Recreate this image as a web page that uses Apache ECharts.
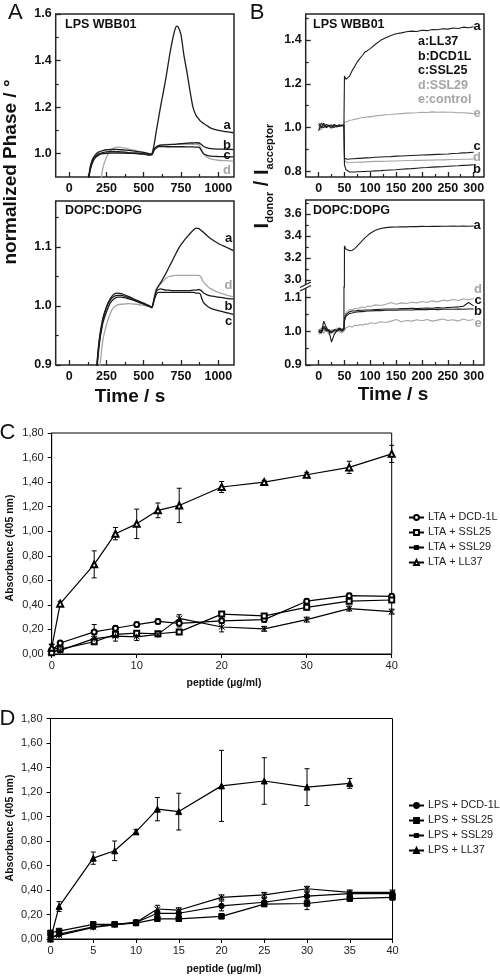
<!DOCTYPE html>
<html><head><meta charset="utf-8">
<script src="https://cdn.jsdelivr.net/npm/echarts@6.0.0/dist/echarts.min.js"></script>
<style>html,body{margin:0;padding:0;background:#fff;}#chart{width:500px;height:977px;}</style>
</head><body><div id="chart"></div>
<script>
// ---------------- Panel A (normalized phase) ----------------
const timeA = [125,140,150,160,175,200,225,250,275,300,325,350,400,450,500,540,555,570,585,600,615,630,650,670,690,710,720,730,750,770,790,810,830,850,870,880,890,900,925,950,1000,1050,1100];
const aTopA = [0.88,0.93,0.955,0.972,0.988, 1.0,1.005,1.008,1.01,1.01, 1.009,1.008,1.005,1.003,1.0, 0.995,1.0,1.04,1.10,1.155, 1.21,1.26,1.33,1.41,1.48, 1.535,1.548,1.545,1.51,1.42, 1.35,1.27,1.2,1.165,1.148, 1.14,1.135,1.13,1.12,1.11, 1.10,1.095,1.09];
const aTopB = [0.87,0.94,0.965,0.98,0.995, 1.008,1.013,1.017,1.018,1.019, 1.018,1.017,1.014,1.01,1.006, 1.0,0.998,1.02,1.03,1.035, 1.037,1.038,1.038,1.039,1.04, 1.04,1.041,1.042,1.043,1.044, 1.045,1.046,1.046,1.047,1.046, 1.043,1.038,1.032,1.025,1.022, 1.02,1.019,1.018];
const aTopC = [0.87,0.925,0.95,0.967,0.982, 0.995,1.0,1.002,1.003,1.003, 1.003,1.003,1.002,1.0,0.998, 0.994,0.995,1.015,1.025,1.03, 1.031,1.031,1.03,1.03,1.03, 1.03,1.03,1.03,1.03,1.03, 1.029,1.029,1.029,1.028,1.028, 1.02,1.01,1.0,0.993,0.99, 0.988,0.987,0.986];
const aTopD = [null,null,null,null,null, 0.82,0.935,0.985,1.012,1.024, 1.028,1.027,1.02,1.013,1.005, 0.998,0.997,1.02,1.03,1.036, 1.038,1.039,1.04,1.04,1.04, 1.04,1.04,1.04,1.04,1.04, 1.04,1.04,1.04,1.04,1.039, 1.03,1.015,1.0,0.985,0.978, 0.972,0.97,0.968];
const aBotA = [0.6,0.68,0.73,0.78,0.86, 0.935,0.975,0.998,1.012,1.02, 1.022,1.021,1.016,1.01,1.005, 1.0,0.998,1.012,1.027,1.034, 1.04,1.047,1.056,1.066,1.076, 1.086,1.091,1.096,1.104,1.111, 1.117,1.123,1.128,1.132,1.131, 1.129,1.127,1.125,1.119,1.114, 1.106,1.1,1.094];
const aBotB = [0.6,0.68,0.73,0.78,0.86, 0.94,0.978,0.998,1.01,1.016, 1.018,1.018,1.014,1.009,1.004, 1.0,0.998,1.012,1.025,1.028, 1.029,1.028,1.027,1.027,1.026, 1.026,1.026,1.026,1.026,1.026, 1.026,1.026,1.027,1.027,1.028, 1.027,1.025,1.022,1.019,1.017, 1.015,1.013,1.012];
const aBotC = [0.6,0.67,0.72,0.77,0.85, 0.93,0.97,0.99,1.005,1.012, 1.015,1.015,1.012,1.008,1.003, 0.999,0.997,1.01,1.02,1.023, 1.023,1.023,1.023,1.023,1.023, 1.023,1.023,1.023,1.023,1.023, 1.023,1.023,1.023,1.022,1.022, 1.02,1.012,1.006,1.0,0.996, 0.992,0.989,0.986];
const aBotD = [null,null,null,null,null, 0.88,0.94,0.968,0.987,0.998, 1.002,1.003,1.004,1.003,1.001, 0.999,0.998,1.015,1.03,1.035, 1.038,1.042,1.047,1.05,1.051, 1.052,1.052,1.052,1.052,1.052, 1.052,1.052,1.052,1.052,1.052, 1.05,1.046,1.041,1.034,1.029, 1.023,1.019,1.016];

// ---------------- Panel B (FRET ratio) ----------------
const timeB = [0,5,10,15,20,25,30,35,40,45,49,50,53,56,60,65,70,75,80,85,90,95,100,110,120,130,140,150,160,170,180,190,200,210,220,230,240,250,260,270,280,290,300];
const bTopA = [0.985,1.02,1.01,1.0,1.012,1.0,1.01,1.005,1.012,1.008, 1.01,1.235,1.22,1.225,1.235, 1.26,1.28,1.30,1.316,1.33, 1.345,1.352,1.36,1.38,1.398, 1.41,1.42,1.428,1.432,1.437, 1.44,1.438,1.444,1.442,1.447, 1.446,1.451,1.449,1.454,1.452, 1.458,1.455,1.46];
const bTopB = [1.02,1.005,1.0,1.015,1.008,1.012,1.0,1.01,1.005,1.012, 1.01,0.83,0.808,0.8,0.798, 0.798,0.798,0.799,0.799,0.8, 0.8,0.801,0.801,0.803,0.804, 0.806,0.807,0.808,0.81,0.812, 0.813,0.815,0.817,0.818,0.82, 0.821,0.822,0.824,0.825,0.826, 0.828,0.829,0.831];
const bTopC = [1.01,1.0,1.02,1.005,1.01,1.0,1.015,1.008,1.012,1.01, 1.012,0.86,0.855,0.856,0.857, 0.858,0.858,0.86,0.86,0.861, 0.862,0.862,0.863,0.865,0.866, 0.867,0.868,0.87,0.871,0.872, 0.873,0.874,0.875,0.876,0.877, 0.878,0.879,0.88,0.882,0.883, 0.885,0.886,0.888];
const bTopD = [0.99,1.0,1.01,1.0,1.005,0.995,1.01,1.0,1.008,1.01, 1.008,0.85,0.842,0.84,0.84, 0.841,0.842,0.842,0.843,0.843, 0.844,0.844,0.845,0.846,0.846, 0.847,0.848,0.848,0.849,0.85, 0.85,0.851,0.851,0.852,0.852, 0.853,0.853,0.854,0.855,0.855, 0.856,0.856,0.857];
const bTopE = [1.0,0.99,1.012,1.0,1.006,0.998,1.01,1.004,1.01,1.008, 1.01,1.025,1.03,1.028,1.034, 1.035,1.039,1.04,1.044,1.046, 1.047,1.05,1.049,1.054,1.056, 1.059,1.06,1.062,1.064,1.066, 1.067,1.068,1.07,1.069,1.072, 1.07,1.071,1.07,1.07,1.068, 1.068,1.066,1.064];
const bBotA = [1.0,0.995,1.03,1.01,1.0,0.968,0.99,1.0,1.005,1.0, 1.005,3.31,3.28,3.27,3.265, 3.27,3.285,3.31,3.335,3.36, 3.385,3.405,3.425,3.452,3.468, 3.476,3.48,3.482,3.484,3.483, 3.486,3.485,3.487,3.486,3.488, 3.487,3.489,3.488,3.49,3.489, 3.49,3.489,3.49];
const bBotB = [1.0,0.995,1.01,1.0,1.005,0.998,1.002,1.0,1.006,1.003, 1.005,1.03,1.045,1.05,1.053, 1.054,1.056,1.057,1.058,1.058, 1.059,1.06,1.06,1.061,1.061, 1.062,1.062,1.062,1.063,1.063, 1.063,1.064,1.064,1.064,1.065, 1.064,1.065,1.065,1.065,1.066, 1.065,1.066,1.066];
const bBotC = [1.005,1.0,1.015,1.005,1.0,0.995,1.005,1.002,1.01,1.005, 1.008,1.035,1.05,1.055,1.058, 1.06,1.06,1.061,1.062,1.062, 1.063,1.063,1.063,1.064,1.065, 1.066,1.066,1.066,1.067,1.067, 1.068,1.067,1.068,1.069,1.068, 1.07,1.069,1.07,1.071,1.072, 1.074,1.085,1.075];
const bBotD = [0.995,1.01,1.0,1.015,0.995,1.005,1.0,1.01,0.998,1.005, 1.01,1.04,1.055,1.06,1.065, 1.063,1.068,1.066,1.07,1.072, 1.07,1.075,1.073,1.078,1.076, 1.08,1.085,1.08,1.084,1.082, 1.086,1.084,1.088,1.085,1.09, 1.087,1.092,1.09,1.094,1.091, 1.096,1.093,1.097];
const bBotE = [0.99,1.0,0.995,1.005,0.99,1.0,0.995,1.005,1.0,0.995, 1.0,1.005,1.01,1.008,1.015, 1.012,1.018,1.016,1.02,1.018, 1.022,1.02,1.025,1.023,1.028, 1.026,1.03,1.035,1.028,1.032, 1.03,1.034,1.031,1.035,1.03, 1.033,1.036,1.032,1.034,1.03, 1.036,1.032,1.035];

// ---------------- Panels C / D (absorbance) ----------------
const peptide = [0,1,5,7.5,10,12.5,15,20,25,30,35,40];
const peptideLL37D = [0,1,5,7.5,10,12.5,15,20,25,30,35];
const ltaDCD = [0.03,0.09,0.18,0.21,0.24,0.265,0.25,0.27,0.28,0.43,0.475,0.47];
const ltaSSL25 = [0.01,0.04,0.10,0.16,0.17,0.165,0.18,0.325,0.31,0.38,0.43,0.44];
const ltaSSL29 = [0.06,0.03,0.125,0.145,0.14,0.16,0.29,0.22,0.205,0.28,0.37,0.345];
const ltaLL37 = [0.05,0.41,0.73,0.98,1.06,1.17,1.21,1.36,1.40,1.46,1.52,1.63];
const ltaDCDerr = [0.01,0.01,0.06,0.02,0.02,0.02,0.03,0.02,0.02,0.02,0.02,0.02];
const ltaSSL25err = [0.01,0.01,0.02,0.02,0.02,0.02,0.02,0.02,0.02,0.02,0.02,0.02];
const ltaSSL29err = [0.02,0.02,0.02,0.04,0.03,0.02,0.03,0.04,0.02,0.02,0.02,0.02];
const ltaLL37err = [0.03,0.02,0.11,0.05,0.12,0.06,0.14,0.045,0.015,0.02,0.05,0.07];
const lpsDCD = [0.01,0.04,0.10,0.12,0.135,0.21,0.21,0.27,0.30,0.35,0.37,0.37];
const lpsSSL25 = [0.05,0.065,0.12,0.12,0.13,0.165,0.165,0.185,0.285,0.29,0.33,0.34];
const lpsSSL29 = [0.01,0.03,0.095,0.115,0.135,0.245,0.235,0.34,0.36,0.41,0.38,0.38];
const lpsLL37 = [0.0,0.265,0.66,0.72,0.875,1.06,1.04,1.25,1.29,1.24,1.27];
const lpsDCDerr = [0.01,0.01,0.01,0.01,0.02,0.02,0.02,0.04,0.03,0.03,0.02,0.02];
const lpsSSL25err = [0.02,0.01,0.01,0.01,0.01,0.02,0.02,0.01,0.02,0.05,0.02,0.02];
const lpsSSL29err = [0.01,0.01,0.01,0.01,0.02,0.03,0.02,0.02,0.02,0.02,0.02,0.02];
const lpsLL37err = [0.02,0.04,0.05,0.08,0.02,0.095,0.15,0.29,0.19,0.15,0.04];

// tick values
const ticksTimeA = [0,250,500,750,1000], minorTimeA = [125,375,625,875];
const ticksTimeB = [0,50,100,150,200,250,300], minorTimeB = [25,75,125,175,225,275];
const ticksATop = [1.0,1.2,1.4,1.6], minorATop = [1.1,1.3,1.5];
const ticksABot = [0.9,1.0,1.1], minorABot = [0.95,1.05,1.15];
const ticksBTop = [0.8,1.0,1.2,1.4], minorBTop = [0.9,1.1,1.3,1.5];
const ticksBUp = [3.0,3.2,3.4,3.6], minorBUp = [3.1,3.3,3.5,3.7];
const ticksBLow = [0.9,1.0,1.1], minorBLow = [0.95,1.05];

// ---------------- helpers ----------------
const FONT = "'Liberation Sans', Arial, sans-serif";
const BLK = '#1c1c1c', GRY = '#a5a5a5';
const zip = (xs, ys) => xs.map((x, i) => [x, ys[i]]);
const fmt1 = v => v.toFixed(1);
const fmtInt = v => String(Math.round(v));
const fmtComma = v => v.toFixed(2).replace('.', ',');

function pairAxis(dir, grid, min, max, majors, minors, showLabels, fmt) {
  const base = {type:'value', gridIndex:grid, min:min, max:max, position: dir === 'x' ? 'bottom' : 'left',
    axisLine:{show:false, onZero:false}, splitLine:{show:false}};
  return [
    Object.assign({}, base, {
      axisTick:{show:true, inside:true, length:5, customValues:majors, lineStyle:{color:'#222', width:1.3}},
      axisLabel:{show:showLabels, customValues:majors, margin: dir === 'x' ? 5 : 4, color:'#111',
        fontFamily:FONT, fontWeight:'bold', fontSize:12.5, formatter:fmt}
    }),
    Object.assign({}, base, {
      axisTick:{show:true, inside:true, length:3, customValues:minors, lineStyle:{color:'#222', width:1.2}},
      axisLabel:{show:false}
    })
  ];
}
function hiddenAxis(grid, min, max) {
  return {type:'value', gridIndex:grid, min:min, max:max, show:false, axisLine:{onZero:false}};
}
function kin(name, xi, yi, xs, ys, color, smooth, width) {
  return {type:'line', name:name, xAxisIndex:xi, yAxisIndex:yi, data:zip(xs, ys), showSymbol:false, symbol:'none',
    smooth:smooth, connectNulls:false, silent:true, clip:true,
    lineStyle:{color:color, width:width || 1.3}};
}
function errRender(params, api) {
  const x = api.value(0), y = api.value(1), e = api.value(2);
  const p1 = api.coord([x, y + e]), p2 = api.coord([x, y - e]);
  const w = 2.5, st = {stroke:'#000', lineWidth:1};
  return {type:'group', children:[
    {type:'line', shape:{x1:p1[0], y1:p1[1], x2:p2[0], y2:p2[1]}, style:st},
    {type:'line', shape:{x1:p1[0]-w, y1:p1[1], x2:p1[0]+w, y2:p1[1]}, style:st},
    {type:'line', shape:{x1:p2[0]-w, y1:p2[1], x2:p2[0]+w, y2:p2[1]}, style:st}
  ]};
}
const ASTER = 'path://M0,0L10,10M10,0L0,10M5,-1L5,11';
function absLine(name, xi, yi, xs, ys, symbol, size) {
  return {type:'line', name:name, xAxisIndex:xi, yAxisIndex:yi, data:zip(xs, ys), symbol:symbol, symbolSize:size || 5,
    showSymbol:true, silent:true, z:3,
    lineStyle:{color:'#000', width:1.2}, itemStyle:{color:'#000', borderColor:'#000', borderWidth:1}};
}
function errSeries(xi, yi, xs, ys, es) {
  return {type:'custom', xAxisIndex:xi, yAxisIndex:yi, silent:true, z:2, renderItem:errRender,
    encode:{x:0, y:1}, data:xs.map((x, i) => [x, ys[i], es[i]])};
}
function txt(x, y, text, size, o) {
  o = o || {};
  return {type:'text', x:x, y:y, rotation:o.rot || 0, z:100, silent:true,
    style:{text:text, fontSize:size, fontWeight:o.weight || 'bold', fontFamily:FONT, fill:o.color || '#111',
      textAlign:o.align || 'left', textVerticalAlign:'middle', align:o.align || 'left', verticalAlign:'middle',
      rich:o.rich}};
}

// ---------------- axes ----------------
const xAxes = [].concat(
  pairAxis('x', 0, -90, 1105, ticksTimeA, minorTimeA, true, fmtInt),   // 0,1
  pairAxis('x', 1, -90, 1105, ticksTimeA, minorTimeA, true, fmtInt),   // 2,3
  pairAxis('x', 2, -25, 320, ticksTimeB, minorTimeB, true, fmtInt),    // 4,5
  [hiddenAxis(3, -25, 320)],                                           // 6
  pairAxis('x', 4, -25, 320, ticksTimeB, minorTimeB, true, fmtInt),    // 7,8
  [hiddenAxis(5, 0, 1)],                                               // 9
  [{type:'value', gridIndex:6, min:0, max:40, interval:10, position:'bottom',
    axisLine:{show:true, onZero:false, lineStyle:{color:'#000', width:1}}, splitLine:{show:false},
    axisTick:{show:true, inside:false, length:4, lineStyle:{color:'#000'}},
    axisLabel:{margin:6, color:'#222', fontFamily:FONT, fontSize:11}}],            // 10
  [{type:'value', gridIndex:7, min:0, max:40, interval:5, position:'bottom',
    axisLine:{show:true, onZero:false, lineStyle:{color:'#000', width:1}}, splitLine:{show:false},
    axisTick:{show:true, inside:false, length:4, lineStyle:{color:'#000'}},
    axisLabel:{margin:6, color:'#222', fontFamily:FONT, fontSize:11}}]             // 11
);
const absY = g => ({type:'value', gridIndex:g, min:0, max:1.8, interval:0.2, position:'left',
  axisLine:{show:true, onZero:false, lineStyle:{color:'#000', width:1}}, splitLine:{show:false},
  axisTick:{show:true, inside:false, length:4, lineStyle:{color:'#000'}},
  axisLabel:{margin:8, color:'#222', fontFamily:FONT, fontSize:11, formatter:fmtComma}});
const yAxes = [].concat(
  pairAxis('y', 0, 0.9, 1.6, ticksATop, minorATop, true, fmt1),        // 0,1
  pairAxis('y', 1, 0.9, 1.178, ticksABot, minorABot, true, fmt1),      // 2,3
  pairAxis('y', 2, 0.775, 1.518, ticksBTop, minorBTop, true, fmt1),    // 4,5
  pairAxis('y', 3, 2.936, 3.727, ticksBUp, minorBUp, true, fmt1),      // 6,7
  pairAxis('y', 4, 0.9, 1.131, ticksBLow, minorBLow, true, fmt1),      // 8,9
  [hiddenAxis(5, 0, 1)],                                               // 10
  [absY(6), absY(7)]                                                   // 11,12
);

const frame = {show:true, borderColor:'#262626', borderWidth:1.5, backgroundColor:'transparent'};
const grids = [
  Object.assign({left:55.7, top:14, width:178.3, height:163}, frame),
  Object.assign({left:55.7, top:201, width:178.3, height:164}, frame),
  Object.assign({left:305.7, top:14, width:178.3, height:163}, frame),
  {left:305.7, top:200, width:178.3, height:87, show:false},
  {left:305.7, top:287, width:178.3, height:78, show:false},
  Object.assign({left:305.7, top:200, width:178.3, height:165}, frame),
  {left:51.7, top:433, width:340, height:221, show:true, borderColor:'#000', borderWidth:1},
  {left:50.5, top:718.5, width:342, height:220.5, show:true, borderColor:'#000', borderWidth:1}
];

// ---------------- series ----------------
const series = [
  kin('Ad', 0, 0, timeA, aTopD, GRY, 0.2), kin('Ac', 0, 0, timeA, aTopC, BLK, 0.2),
  kin('Ab', 0, 0, timeA, aTopB, BLK, 0.2), kin('Aa', 0, 0, timeA, aTopA, BLK, 0.2),
  kin('ADd', 2, 2, timeA, aBotD, GRY, 0.2), kin('ADc', 2, 2, timeA, aBotC, BLK, 0.2),
  kin('ADb', 2, 2, timeA, aBotB, BLK, 0.2), kin('ADa', 2, 2, timeA, aBotA, BLK, 0.2),
  kin('Be', 4, 4, timeB, bTopE, GRY, false, 1.1), kin('Bd', 4, 4, timeB, bTopD, GRY, false, 1.1),
  kin('Bc', 4, 4, timeB, bTopC, BLK, false, 1.1), kin('Bb', 4, 4, timeB, bTopB, BLK, false, 1.1),
  kin('Ba', 4, 4, timeB, bTopA, BLK, false, 1.1),
  kin('BDaU', 6, 6, timeB, bBotA, BLK, false, 1.1),
  kin('BDe', 7, 8, timeB, bBotE, GRY, false, 1.1), kin('BDd', 7, 8, timeB, bBotD, GRY, false, 1.1),
  kin('BDc', 7, 8, timeB, bBotC, BLK, false, 1.1), kin('BDb', 7, 8, timeB, bBotB, BLK, false, 1.1),
  kin('BDa', 7, 8, timeB, bBotA, BLK, false, 1.1),
  errSeries(10, 11, peptide, ltaDCD, ltaDCDerr), errSeries(10, 11, peptide, ltaSSL25, ltaSSL25err),
  errSeries(10, 11, peptide, ltaSSL29, ltaSSL29err), errSeries(10, 11, peptide, ltaLL37, ltaLL37err),
  absLine('LTA + DCD-1L', 10, 11, peptide, ltaDCD, 'emptyCircle', 5),
  absLine('LTA + SSL25', 10, 11, peptide, ltaSSL25, 'emptyRect', 5),
  absLine('LTA + SSL29', 10, 11, peptide, ltaSSL29, ASTER, 6),
  absLine('LTA + LL37', 10, 11, peptide, ltaLL37, 'emptyTriangle', 6),
  errSeries(11, 12, peptide, lpsDCD, lpsDCDerr), errSeries(11, 12, peptide, lpsSSL25, lpsSSL25err),
  errSeries(11, 12, peptide, lpsSSL29, lpsSSL29err), errSeries(11, 12, peptideLL37D, lpsLL37, lpsLL37err),
  absLine('LPS + DCD-1L', 11, 12, peptide, lpsDCD, 'circle', 5.5),
  absLine('LPS + SSL25', 11, 12, peptide, lpsSSL25, 'rect', 5.5),
  absLine('LPS + SSL29', 11, 12, peptide, lpsSSL29, ASTER, 6),
  absLine('LPS + LL37', 11, 12, peptideLL37D, lpsLL37, 'triangle', 6)
];

const legendBase = {orient:'vertical', itemWidth:15, itemHeight:6, itemGap:4, padding:0,
  textStyle:{fontSize:10.8, fontFamily:FONT, color:'#222', padding:[0,0,0,-1]}, selectedMode:false};
const legends = [
  Object.assign({left:408, top:512, data:['LTA + DCD-1L','LTA + SSL25','LTA + SSL29','LTA + LL37']}, legendBase),
  Object.assign({left:408, top:800, data:['LPS + DCD-1L','LPS + SSL25','LPS + SSL29','LPS + LL37']}, legendBase)
];

const subRich = {
  b:{fontSize:20, fontWeight:'bold', fontFamily:FONT, fill:'#111', lineHeight:26, verticalAlign:'middle'},
  s:{fontSize:11, fontWeight:'bold', fontFamily:FONT, fill:'#111', lineHeight:26, verticalAlign:'bottom'}
};
const graphics = [
  txt(8, 13, 'A', 22, {weight:'normal'}), txt(257, 13, 'B', 22, {weight:'normal', align:'center'}),
  txt(7.5, 433, 'C', 22, {weight:'normal', align:'center'}), txt(7.5, 718.5, 'D', 22, {weight:'normal', align:'center'}),
  txt(65, 25, 'LPS WBB01', 12.5), txt(65, 211, 'DOPC:DOPG', 12.5),
  txt(313, 25, 'LPS WBB01', 12.5), txt(313, 211, 'DOPC:DOPG', 12.5),
  txt(418, 42, 'a:LL37', 12.5), txt(418, 56.5, 'b:DCD1L', 12.5), txt(418, 71, 'c:SSL25', 12.5),
  txt(418, 85.5, 'd:SSL29', 12.5, {color:GRY}), txt(418, 99.5, 'e:control', 12.5, {color:GRY}),
  // curve letters
  txt(227, 125, 'a', 13, {align:'center'}), txt(227, 145.5, 'b', 13, {align:'center'}),
  txt(227, 155.5, 'c', 13, {align:'center'}), txt(227, 170, 'd', 13, {align:'center', color:GRY}),
  txt(228.5, 238, 'a', 13, {align:'center'}), txt(228.5, 285, 'd', 13, {align:'center', color:GRY}),
  txt(228.5, 306.5, 'b', 13, {align:'center'}), txt(228.5, 321.5, 'c', 13, {align:'center'}),
  txt(477, 26.5, 'a', 13, {align:'center'}), txt(477, 113.5, 'e', 13, {align:'center', color:GRY}),
  txt(477, 146, 'c', 13, {align:'center'}), txt(477, 157, 'd', 13, {align:'center', color:GRY}),
  txt(477, 169, 'b', 13, {align:'center'}),
  txt(477, 225, 'a', 13, {align:'center'}), txt(478, 289, 'd', 13, {align:'center', color:GRY}),
  txt(478, 300, 'c', 13, {align:'center'}), txt(478, 311, 'b', 13, {align:'center'}),
  txt(478, 323, 'e', 13, {align:'center', color:GRY}),
  // axis titles
  txt(11, 172, 'normalized Phase / °', 19, {align:'center', rot:Math.PI/2}),
  txt(130, 397, 'Time / s', 19, {align:'center'}), txt(393, 395, 'Time / s', 19, {align:'center'}),
  txt(262, 176, '{b|I}{s|donor}{b| / I}{s|acceptor}', 20, {align:'center', rot:Math.PI/2, rich:subRich}),
  txt(10.5, 548, 'Absorbance (405 nm)', 10.5, {align:'center', rot:Math.PI/2}),
  txt(10.5, 828, 'Absorbance (405 nm)', 10.5, {align:'center', rot:Math.PI/2}),
  txt(224, 683, 'peptide (µg/ml)', 10.5, {align:'center'}),
  txt(224, 969, 'peptide (µg/ml)', 10.5, {align:'center'}),
  // axis break mark
  {type:'polygon', z:101, silent:true, shape:{points:[[300,287.5],[311,282],[311,285.5],[300,291]]}, style:{fill:'#fff'}},
  {type:'line', z:102, silent:true, shape:{x1:300, y1:287.5, x2:311, y2:282}, style:{stroke:'#222', lineWidth:1.3}},
  {type:'line', z:102, silent:true, shape:{x1:300, y1:291, x2:311, y2:285.5}, style:{stroke:'#222', lineWidth:1.3}}
];

const chart = echarts.init(document.getElementById('chart'), null, {renderer:'canvas', width:500, height:977});
chart.setOption({
  animation:false, backgroundColor:'#fff',
  grid:grids, xAxis:xAxes, yAxis:yAxes, series:series, legend:legends, graphic:graphics
});
</script>
</body></html>
